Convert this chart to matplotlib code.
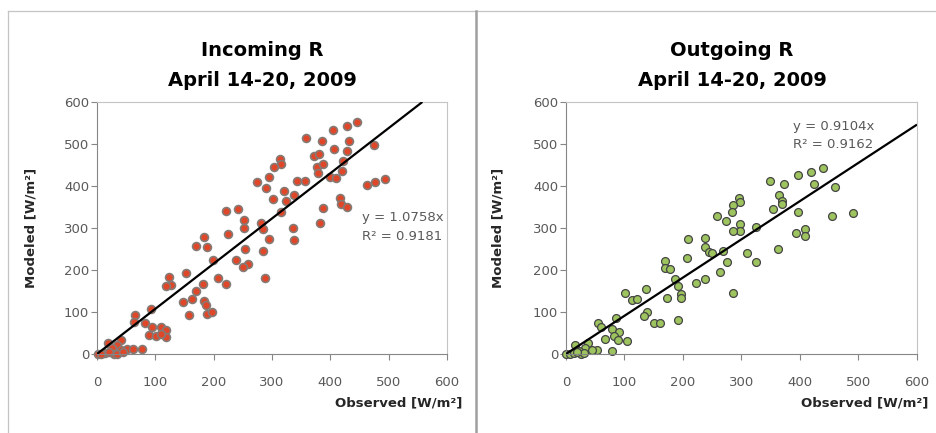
import matplotlib
matplotlib.use('Agg')
import matplotlib.pyplot as plt
from matplotlib.lines import Line2D

plt.rcParams['font.family'] = ['DejaVu Sans']

# ---------------- data ----------------
in_obs = [274, 295, 289, 221, 242, 252, 252, 281, 285, 294, 225, 184, 170, 189, 253,
          199, 239, 259, 250, 284, 288, 123, 127, 119, 153, 208, 221, 181, 170, 163,
          147, 184, 186, 188, 197, 157, 93, 65, 64, 82, 95, 110, 118, 119, 89,
          101, 110, 42, 19, 34, 25, 41, 51, 62, 77, 13, 29, 1, 7, 20, 35, 45,
          445, 429, 404, 358, 386, 432, 406, 428, 474, 372, 380, 314, 315, 304, 377,
          387, 378, 422, 420, 400, 409, 342, 357, 462, 476, 494, 320, 338, 324, 301,
          417, 418, 428, 388, 315, 382, 336, 338]
in_mod = [410, 422, 395, 341, 345, 319, 301, 311, 297, 273, 285, 278, 256, 254, 249,
          224, 224, 214, 206, 246, 182, 184, 164, 162, 194, 182, 167, 167, 150, 131,
          124, 126, 117, 95, 100, 94, 106, 94, 77, 75, 64, 65, 56, 41, 45,
          42, 48, 33, 27, 21, 14, 10, 11, 11, 11, 2, 1, 1, 0, 5, 0, 4,
          552, 543, 533, 515, 507, 507, 488, 483, 498, 472, 476, 464, 452, 445, 446,
          452, 432, 460, 436, 421, 420, 412, 412, 402, 409, 417, 387, 379, 365, 368,
          372, 357, 351, 347, 339, 311, 299, 271]

out_obs = [296, 297, 286, 283, 258, 273, 298, 297, 285, 209, 238, 237, 244, 250, 269,
           275, 263, 207, 169, 169, 178, 187, 192, 196, 196, 191, 222, 237, 285, 172,
           137, 138, 133, 150, 161, 101, 112, 121, 86, 55, 60, 78, 90, 82, 89,
           105, 67, 78, 16, 38, 32, 53, 45, 22, 0, 7, 13, 25, 30, 18,
           440, 419, 396, 424, 460, 348, 373, 364, 370, 369, 353, 397, 454, 491, 409,
           409, 393, 324, 363, 309, 325]
out_mod = [371, 361, 355, 339, 329, 317, 310, 294, 294, 273, 277, 254, 244, 240, 246,
           218, 196, 228, 222, 204, 202, 178, 163, 144, 134, 81, 170, 178, 146, 134,
           155, 99, 91, 75, 75, 146, 129, 130, 85, 75, 64, 60, 52, 44, 33,
           32, 36, 8, 22, 26, 15, 10, 10, 8, 1, 0, 2, 0, 3, 5,
           442, 433, 426, 405, 398, 412, 405, 379, 364, 356, 345, 339, 329, 335, 297,
           281, 287, 303, 249, 240, 218]

slopes = [1.0758, 0.9104]
r2_values = [0.9181, 0.9162]
title_line1 = ['Incoming R', 'Outgoing R']
title_line2 = ['April 14-20, 2009', 'April 14-20, 2009']
tick_values = [0, 100, 200, 300, 400, 500, 600]
x_label = 'Observed [W/m\u00b2]'
y_label = 'Modeled [W/m\u00b2]'

# ---------------- figure ----------------
W, H = 937, 433
fig = plt.figure(figsize=(W / 100, H / 100), dpi=100)
fig.patch.set_facecolor('white')


def rect(x0, y0, x1, y1):
    return [x0 / W, 1 - y1 / H, (x1 - x0) / W, (y1 - y0) / H]


panels = [
    dict(rect=rect(97, 102, 447, 354), obs=in_obs, mod=in_mod,
         face='#E04628', edge='#857A75', elw=1.2,
         title_x=262, eq_pos=(453.8, 324.5, 279.3),
         ylab_x=-0.171, xlab_x=1.043),
    dict(rect=rect(566, 102, 917, 354), obs=out_obs, mod=out_mod,
         face='#9DC45E', edge='#454545', elw=0.9,
         title_x=732, eq_pos=(388.5, 541.2, 499.3),
         ylab_x=-0.174, xlab_x=1.033),
]

grey_txt = '#595959'

for i, p in enumerate(panels):
    ax = fig.add_axes(p['rect'])
    ax.set_xlim(0, 600)
    ax.set_ylim(0, 600)

    ax.scatter(p['obs'], p['mod'], s=32, c=p['face'], edgecolors=p['edge'],
               linewidths=p['elw'], zorder=2, clip_on=False)

    k = slopes[i]
    x_end = min(600, 600 / k)
    ax.plot([0, x_end], [0, k * x_end], color='black', lw=1.6, zorder=3,
            solid_capstyle='butt')

    ex, ey1, ey2 = p['eq_pos']
    ax.text(ex, ey1, f'y = {k:.4f}x', color=grey_txt, fontsize=9.5,
            ha='left', va='center', zorder=4)
    ax.text(ex, ey2, f'R\u00b2 = {r2_values[i]:.4f}', color=grey_txt, fontsize=9.5,
            ha='left', va='center', zorder=4)

    ax.set_xticks(tick_values)
    ax.set_yticks(tick_values)
    ax.set_xticklabels([str(t) for t in tick_values])
    ax.set_yticklabels([str(t) for t in tick_values])
    ax.tick_params(axis='both', direction='out', length=4, width=0.8,
                   color='#868686', labelcolor=grey_txt, labelsize=9.5)
    ax.tick_params(axis='x', pad=12)
    ax.tick_params(axis='y', pad=1.7)

    for side in ['left', 'bottom']:
        ax.spines[side].set_color('#868686')
        ax.spines[side].set_linewidth(0.8)
    for side in ['top', 'right']:
        ax.spines[side].set_color('#C4C4C4')
        ax.spines[side].set_linewidth(0.8)

    ax.set_ylabel(y_label, fontsize=9.5, fontweight='bold', color='#262626')
    ax.yaxis.set_label_coords(p['ylab_x'], 0.5)
    ax.set_xlabel(x_label, fontsize=9.5, fontweight='bold', color='#262626',
                  ha='right', va='center')
    ax.xaxis.set_label_coords(p['xlab_x'], -0.194)

    fig.text(p['title_x'] / W, 1 - 50 / H, title_line1[i], fontsize=14,
             fontweight='bold', ha='center', va='center', color='black')
    fig.text(p['title_x'] / W, 1 - 80 / H, title_line2[i], fontsize=14,
             fontweight='bold', ha='center', va='center', color='black')

# frame decorations
top_y = 1 - 11 / H
fig.add_artist(Line2D([8 / W, 1], [top_y, top_y], color='#C4C4C4', lw=0.9,
                      transform=fig.transFigure))
fig.add_artist(Line2D([8 / W, 8 / W], [0, top_y], color='#C4C4C4', lw=0.9,
                      transform=fig.transFigure))
fig.add_artist(Line2D([476 / W, 476 / W], [0, top_y], color='#A0A0A0', lw=1.8,
                      transform=fig.transFigure))

fig.savefig('out.png', dpi=100)
